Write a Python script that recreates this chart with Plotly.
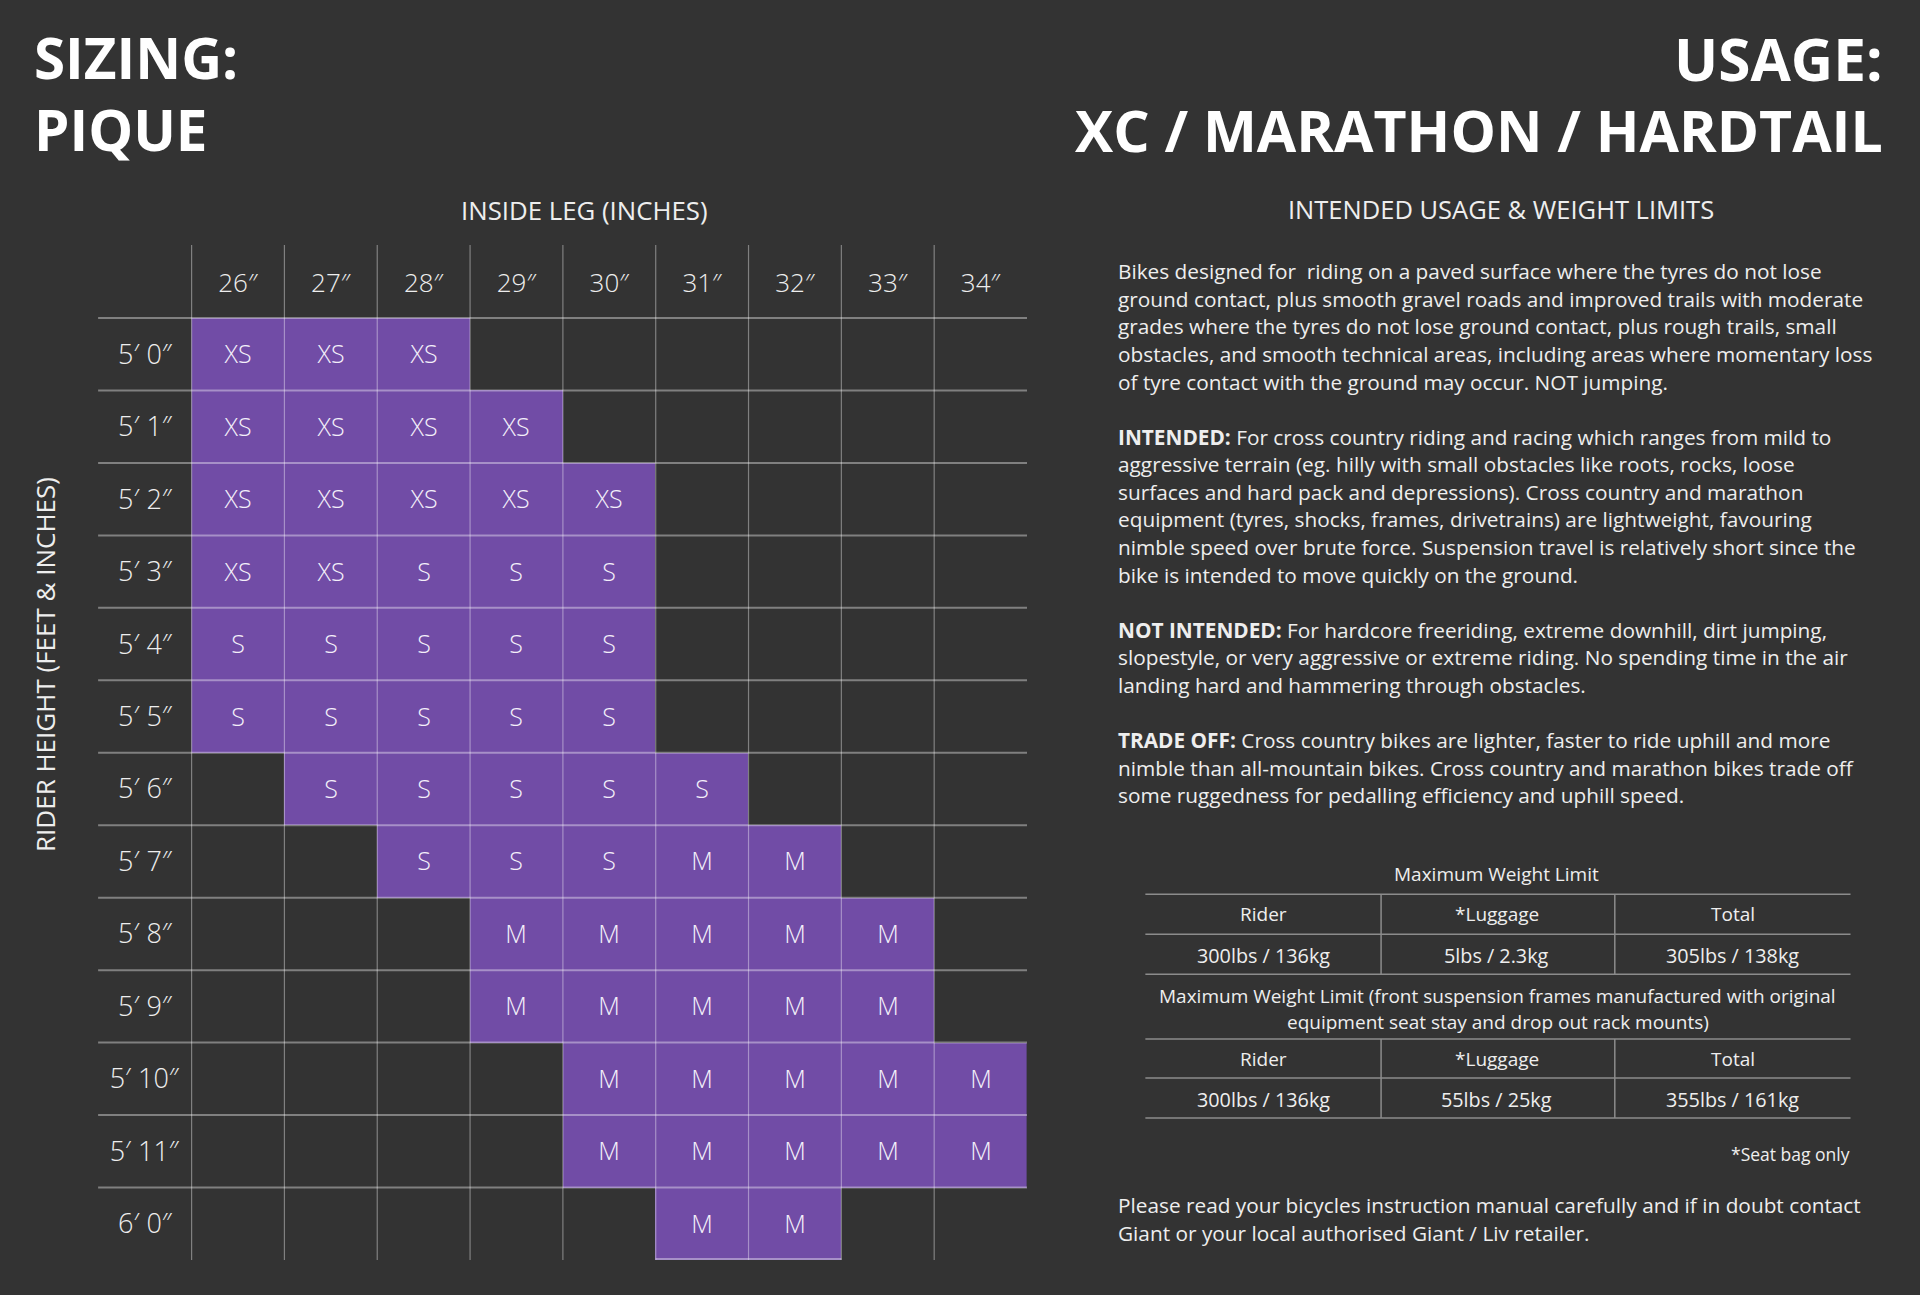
import plotly.graph_objects as go

W = 1920
H = 1295
BG = "#333333"
TXT = "#eeeeee"
FONT = "Open Sans"

# sizing grid
leg = ["26″", "27″", "28″", "29″", "30″", "31″", "32″", "33″", "34″"]
height = ["5′ 0″", "5′ 1″", "5′ 2″", "5′ 3″", "5′ 4″", "5′ 5″", "5′ 6″",
          "5′ 7″", "5′ 8″", "5′ 9″", "5′ 10″", "5′ 11″", "6′ 0″"]
sizes = [
    ["XS", "XS", "XS", "", "", "", "", "", ""],
    ["XS", "XS", "XS", "XS", "", "", "", "", ""],
    ["XS", "XS", "XS", "XS", "XS", "", "", "", ""],
    ["XS", "XS", "S", "S", "S", "", "", "", ""],
    ["S", "S", "S", "S", "S", "", "", "", ""],
    ["S", "S", "S", "S", "S", "", "", "", ""],
    ["", "S", "S", "S", "S", "S", "", "", ""],
    ["", "", "S", "S", "S", "M", "M", "", ""],
    ["", "", "", "M", "M", "M", "M", "M", ""],
    ["", "", "", "M", "M", "M", "M", "M", ""],
    ["", "", "", "", "M", "M", "M", "M", "M"],
    ["", "", "", "", "M", "M", "M", "M", "M"],
    ["", "", "", "", "", "M", "M", "", ""],
]

# text on the right
body = [
    "Bikes designed for  riding on a paved surface where the tyres do not lose",
    "ground contact, plus smooth gravel roads and improved trails with moderate",
    "grades where the tyres do not lose ground contact, plus rough trails, small",
    "obstacles, and smooth technical areas, including areas where momentary loss",
    "of tyre contact with the ground may occur. NOT jumping.",
    "",
    "<b>INTENDED:</b> For cross country riding and racing which ranges from mild to",
    "aggressive terrain (eg. hilly with small obstacles like roots, rocks, loose",
    "surfaces and hard pack and depressions). Cross country and marathon",
    "equipment (tyres, shocks, frames, drivetrains) are lightweight, favouring",
    "nimble speed over brute force. Suspension travel is relatively short since the",
    "bike is intended to move quickly on the ground.",
    "",
    "<b>NOT INTENDED:</b> For hardcore freeriding, extreme downhill, dirt jumping,",
    "slopestyle, or very aggressive or extreme riding. No spending time in the air",
    "landing hard and hammering through obstacles.",
    "",
    "<b>TRADE OFF:</b> Cross country bikes are lighter, faster to ride uphill and more",
    "nimble than all-mountain bikes. Cross country and marathon bikes trade off",
    "some ruggedness for pedalling efficiency and uphill speed.",
]
footer = [
    "Please read your bicycles instruction manual carefully and if in doubt contact",
    "Giant or your local authorised Giant / Liv retailer.",
]

# weight tables
table_head = ["Rider", "*Luggage", "Total"]
table_std = ["300lbs / 136kg", "5lbs / 2.3kg", "305lbs / 138kg"]
table_rack = ["300lbs / 136kg", "55lbs / 25kg", "355lbs / 161kg"]
table_title = "Maximum Weight Limit"
table_title2 = [
    "Maximum Weight Limit (front suspension frames manufactured with original",
    "equipment seat stay and drop out rack mounts)",
]

# plot area in pixels
L, R, T, B = 190.5, 1027.5, 316.5, 1260
PW = R - L
PH = B - T


# paper coords are relative to the plot area
def px(x):
    return (x - L) / PW


def py(y):
    return (B - y) / PH


def label(x, y, text, size=20.8, anchor="center", color=TXT, angle=0):
    fig.add_annotation(
        xref="paper", yref="paper", x=px(x), y=py(y), text=text,
        showarrow=False, xanchor=anchor, yanchor="middle", textangle=angle,
        font=dict(family=FONT, size=size, color=color),
    )


def rule(x0, y0, x1, y1):
    fig.add_shape(
        type="line", xref="paper", yref="paper",
        x0=px(x0), y0=py(y0), x1=px(x1), y1=py(y1),
        line=dict(color="#8c8c8c", width=1.5),
    )


filled = [[1 if c else None for c in row] for row in sizes]

fig = go.Figure(go.Heatmap(
    x=leg, y=height, z=filled, text=sizes, texttemplate="%{text}",
    textfont=dict(family=FONT, size=25, color="#f4f0fa", weight=300),
    colorscale=[[0, "#714ca6"], [1, "#714ca6"]],
    showscale=False, hoverongaps=False,
))

line_v = dict(color="rgba(255,255,255,0.38)", width=1.2)
line_h = dict(color="rgba(255,255,255,0.38)", width=2)
for i in range(len(leg)):
    fig.add_shape(type="line", xref="x", yref="paper", x0=i - 0.5, x1=i - 0.5,
                  y0=0, y1=1 + 72 / PH, line=line_v, layer="above")
for i in range(len(height)):
    fig.add_shape(type="line", xref="paper", yref="y", x0=-93 / PW, x1=1,
                  y0=i - 0.5, y1=i - 0.5, line=line_h, layer="above")
# purple cells in the last row have a light bottom edge
for i, c in enumerate(sizes[-1]):
    if c:
        fig.add_shape(type="line", xref="x", yref="paper", x0=i - 0.5, x1=i + 0.5,
                      y0=0.001, y1=0.001, line=line_h, layer="above")

# headings
label(31, 57, "<b>SIZING:</b>", size=56.5, anchor="left", color="white")
label(31, 129, "<b>PIQUE</b>", size=56.5, anchor="left", color="white")
label(1887, 57, "<b>USAGE:</b>", size=58.5, anchor="right", color="white")
label(1887, 129, "<b>XC / MARATHON / HARDTAIL</b>", size=57.2, anchor="right", color="white")
label(584, 209, "INSIDE LEG (INCHES)", size=25.8)
label(45, 664, "RIDER HEIGHT (FEET & INCHES)", size=26, angle=-90)
label(1502, 208, "INTENDED USAGE & WEIGHT LIMITS", size=25.5)

# usage text
for i, line in enumerate(body):
    if line:
        label(1116.5, 270.7 + i * 27.6, line, anchor="left")

# weight limit tables
cols = [1264, 1498, 1734]
label(1498, 874, table_title, size=19)
for i, t in enumerate(table_head):
    label(cols[i], 914, t, size=19)
    label(cols[i], 1059, t, size=19)
for i, t in enumerate(table_std):
    label(cols[i], 955, t, size=19.8)
for i, t in enumerate(table_rack):
    label(cols[i], 1099, t, size=19.8)
label(1499, 996, table_title2[0], size=19)
label(1499, 1022, table_title2[1], size=19)
for y in [894, 934, 974, 1039, 1078, 1118]:
    rule(1146, y, 1852, y)
for x in [1382, 1616]:
    rule(x, 894, x, 974)
    rule(x, 1039, x, 1118)
label(1853, 1154, "*Seat bag only", size=17.5, anchor="right")
for i, line in enumerate(footer):
    label(1116.5, 1205 + i * 28, line, anchor="left")

# short height labels get a trailing space so they centre against the long ones
height_text = [h if len(h) > 5 else h + "\u00a0" for h in height]

fig.update_layout(
    width=W, height=H,
    margin=dict(l=L, r=W - R, t=T, b=H - B, pad=0),
    paper_bgcolor=BG, plot_bgcolor=BG,
    font=dict(family=FONT, color=TXT),
    xaxis=dict(side="top", type="category", showgrid=False, zeroline=False,
               ticks="", ticklabelstandoff=19, tickfont=dict(size=26, weight=300)),
    yaxis=dict(type="category", autorange="reversed", showgrid=False, zeroline=False,
               ticks="", ticklabelstandoff=11, tickfont=dict(size=27, weight=300),
               tickvals=height, ticktext=height_text),
)

fig.write_html("out.html", config=dict(displayModeBar=False),
               post_script="document.body.style.margin='0';")
